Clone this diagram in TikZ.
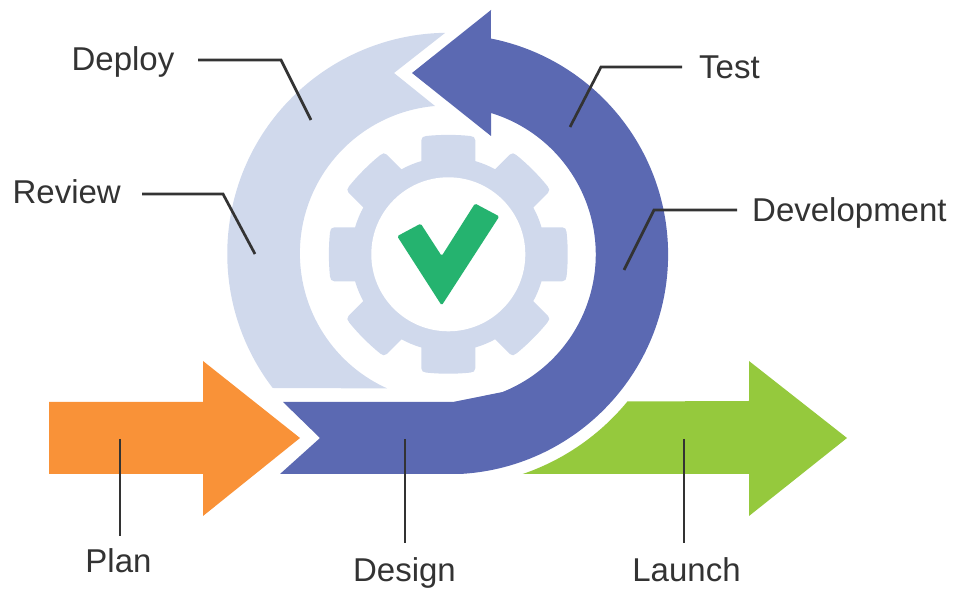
\documentclass[tikz,border=0pt]{standalone}
\usepackage{fontspec}
\setmainfont{Liberation Sans}
\definecolor{cPurple}{HTML}{5B69B2}
\definecolor{cLight}{HTML}{D0D9EC}
\definecolor{cOrange}{HTML}{F99238}
\definecolor{cGreen}{HTML}{95C93D}
\definecolor{cCheck}{HTML}{25B36F}
\definecolor{cInk}{HTML}{333333}
\tikzset{
  lab/.style={inner sep=0pt,text=cInk,font=\fontsize{33}{38}\selectfont},
  leader/.style={draw=cInk,line width=2.7pt,line join=miter},
}
\begin{document}
\begin{tikzpicture}[x=1pt,y=1pt]
\useasboundingbox (0,0) rectangle (956,589);
% light return arrow
\fill[cLight] (445,556) -- (394,516) -- (435,483)
  arc[start angle=95,end angle=245.8,radius=148] -- (272.7,201)
  arc[start angle=217.4,end angle=90.8,radius=221] -- cycle;
% purple loop arrow
\fill[cPurple] (283,187) -- (320,151) -- (280,115) -- (460,115)
  arc[start angle=-86.9,end angle=78.8,radius=220] -- (491,579) -- (412,516) -- (491,453) -- (491,476)
  arc[start angle=73,end angle=-68.3,radius=148] -- (453,187) -- cycle;
% orange arrow
\fill[cOrange] (49,187) -- (203,187) -- (203,228) -- (300,151) -- (203,73) -- (203,115) -- (49,115) -- cycle;
% green arrow
\fill[cGreen] (522.7,115) arc[start angle=-71.2,end angle=-39.4,radius=232.5]
  -- (749,188) -- (749,228) -- (847,151) -- (749,73) -- (749,115) -- cycle;
% gear
\begin{scope}[shift={(448.3,334.7)}]
  \fill[cLight] (0,0) circle[radius=97];
  \foreach \a in {0,45,...,315}{
    \fill[cLight,rotate=\a] (-27,85) -- (-27,114) .. controls (-27,117) and (-25,118) .. (-22,118.3)
      .. controls (-8,119.8) and (8,119.8) .. (22,118.3) .. controls (25,118) and (27,117) .. (27,114) -- (27,85) -- cycle;
  }
  \fill[white] (0,0) circle[radius=77];
\end{scope}
% check mark
\fill[cCheck,rounded corners=1.5pt] (397.2,352.8) -- (420.7,365.4) -- (441.7,333) -- (475,385.5) -- (499.3,372.6) -- (441.7,283.5) -- cycle;
% labels
\node[lab,anchor=base east] (deploy) at (174.5,518.5) {Deploy};
\node[lab,anchor=base east] (review) at (121,385.5) {Review};
\node[lab,anchor=base west] (test) at (699,510.5) {Test};
\node[lab,anchor=base west] (development) at (752,367.5) {Development};
\node[lab,anchor=base] (plan) at (118.5,16.5) {Plan};
\node[lab,anchor=base] (design) at (404.5,7) {Design};
\node[lab,anchor=base] (launch) at (686.5,7) {Launch};
% leader ends
\coordinate (deployElbow) at (281,529); \coordinate (deployTip) at (311,469);
\coordinate (reviewElbow) at (223,395); \coordinate (reviewTip) at (255,335);
\coordinate (testElbow) at (601,522); \coordinate (testTip) at (570,462);
\coordinate (devElbow) at (654,379); \coordinate (devTip) at (624,319);
\coordinate (planTip) at (120,150); \coordinate (designTip) at (405,150); \coordinate (launchTip) at (684,150);
% leaders
\draw[leader,shorten <=23.5pt] (deploy.east |- deployElbow) -- (deployElbow) -- (deployTip);
\draw[leader,shorten <=21pt] (review.east |- reviewElbow) -- (reviewElbow) -- (reviewTip);
\draw[leader,shorten <=17pt] (test.west |- testElbow) -- (testElbow) -- (testTip);
\draw[leader,shorten <=15pt] (development.west |- devElbow) -- (devElbow) -- (devTip);
\draw[leader,shorten >=12.5pt] (planTip) -- (planTip |- plan.north);
\draw[leader,shorten >=14.5pt] (designTip) -- (designTip |- design.north);
\draw[leader,shorten >=14.5pt] (launchTip) -- (launchTip |- launch.north);
\end{tikzpicture}
\end{document}
